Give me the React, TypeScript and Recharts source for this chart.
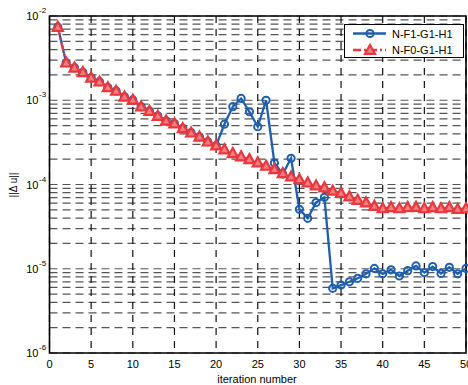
import React from "react";
import { LineChart, Line, XAxis, YAxis, CartesianGrid, ReferenceArea } from "recharts";

const iterations = Array.from({ length: 50 }, (_, i) => i + 1);

const seriesF0: number[] = [
  7.4e-3, 2.79e-3, 2.43e-3, 2.15e-3, 1.85e-3, 1.66e-3, 1.42e-3, 1.29e-3, 1.1e-3, 1.01e-3,
  8.4e-4, 7.45e-4, 6.5e-4, 5.7e-4, 5.3e-4, 4.64e-4, 4.12e-4, 3.69e-4, 3.22e-4, 2.89e-4,
  2.6e-4, 2.35e-4, 2.15e-4, 1.99e-4, 1.82e-4, 1.66e-4, 1.51e-4, 1.36e-4, 1.24e-4, 1.15e-4,
  1.05e-4, 9.7e-5, 9.2e-5, 8.4e-5, 7.9e-5, 7.2e-5, 6.55e-5, 6.1e-5, 5.55e-5, 5.2e-5,
  5.36e-5, 5.2e-5, 5.36e-5, 5.4e-5, 5.2e-5, 5.36e-5, 5.2e-5, 5.36e-5, 5.1e-5, 5.2e-5,
];

const seriesF1: number[] = [
  7.4e-3, 2.79e-3, 2.43e-3, 2.15e-3, 1.85e-3, 1.66e-3, 1.42e-3, 1.29e-3, 1.1e-3, 1.01e-3,
  8.4e-4, 7.45e-4, 6.5e-4, 5.7e-4, 5.3e-4, 4.64e-4, 4.12e-4, 3.69e-4, 3.22e-4, 2.89e-4,
  5.2e-4, 8.4e-4, 1.05e-3, 7.3e-4, 4.85e-4, 1.0e-3, 1.8e-4, 1.33e-4, 2.05e-4, 5.07e-5,
  3.97e-5, 6.1e-5, 7.05e-5, 5.86e-6, 6.4e-6, 7.0e-6, 7.7e-6, 8.7e-6, 1.01e-5, 8.7e-6,
  9.7e-6, 8.2e-6, 9.5e-6, 1.08e-5, 9.0e-6, 1.06e-5, 8.8e-6, 1.04e-5, 8.7e-6, 1.01e-5,
];

const seriesNames = ["N-F1-G1-H1", "N-F0-G1-H1"];
const xTicks = [0, 5, 10, 15, 20, 25, 30, 35, 40, 45, 50];
const decades = [1e-6, 1e-5, 1e-4, 1e-3, 1e-2];
const yTicks: number[] = (() => {
  const t: number[] = [];
  for (let e = -6; e < -2; e++) {
    for (let m = 1; m <= 9; m++) t.push(Number((m * Math.pow(10, e)).toPrecision(3)));
  }
  t.push(1e-2);
  return t;
})();

const data = iterations.map((it, i) => ({ it, f1: seriesF1[i], f0: seriesF0[i] }));

const BLUE = "#1f5fae";
const RED = "#e8383d";
const FONT = "'Liberation Sans', Arial, sans-serif";

const isDecade = (v: number) => decades.some((d) => Math.abs(v - d) / d < 1e-6);

const YTick = (props: any) => {
  const { x, y, payload } = props;
  const v = payload.value as number;
  if (!isDecade(v)) return null;
  const exp = Math.round(Math.log10(v));
  return (
    <g>
      <text x={x - 11} y={y + 4} textAnchor="end" fontSize={11} fontFamily={FONT} fill="#000">
        10
      </text>
      <text x={x - 10.5} y={y - 3} textAnchor="start" fontSize={8} fontFamily={FONT} fill="#000">
        {String(exp)}
      </text>
    </g>
  );
};

const XTick = (props: any) => {
  const { x, payload } = props;
  return (
    <text x={x} y={367.5} textAnchor="middle" fontSize={11} fontFamily={FONT} fill="#000">
      {payload.value}
    </text>
  );
};

const CircleDot = (props: any) => {
  const { cx, cy, index } = props;
  if (cx == null || cy == null) return <g key={index} />;
  return <circle key={index} cx={cx} cy={cy} r={3.6} fill="none" stroke={BLUE} strokeWidth={2} />;
};

const TriDot = (props: any) => {
  const { cx, cy, index } = props;
  if (cx == null || cy == null) return <g key={index} />;
  const p = `${cx},${cy - 5.2} ${cx - 5},${cy + 3.8} ${cx + 5},${cy + 3.8}`;
  return <polygon key={index} points={p} fill="#f07f82" stroke={RED} strokeWidth={2.2} strokeLinejoin="miter" />;
};

export default function App() {
  return (
    <div style={{ position: "absolute", left: 0, top: 0, width: 468, height: 385, background: "#fff" }}>
      <LineChart
        width={468}
        height={385}
        data={data}
        margin={{ top: 16, right: 2, bottom: 0, left: 0 }}
      >
        <CartesianGrid horizontal={true} vertical={false} stroke="#555" strokeDasharray="8 5" strokeWidth={1.2} />
        <CartesianGrid horizontal={false} vertical={true} stroke="#111" strokeDasharray="7 6" strokeWidth={1.2} />
        <XAxis
          dataKey="it"
          type="number"
          domain={[0, 50]}
          ticks={xTicks}
          height={32}
          axisLine={false}
          tickLine={false}
          tickSize={0}
          tickMargin={0}
          tick={XTick}
          interval={0}
          label={{
            content: () => (
              <text x={257} y={383} textAnchor="middle" fontSize={11} fontFamily={FONT} fill="#000">
                iteration number
              </text>
            ),
          }}
        />
        <YAxis
          scale="log"
          domain={[1e-6, 1e-2]}
          allowDataOverflow
          ticks={yTicks}
          interval={0}
          width={49.5}
          axisLine={false}
          tickLine={false}
          tickSize={0}
          tickMargin={0}
          tick={YTick}
          label={{
            content: () => (
              <text
                transform="translate(17,185) rotate(-90)"
                textAnchor="middle"
                fontSize={10}
                fontFamily={FONT}
                fill="#000"
              >
                ||Δ u||
              </text>
            ),
          }}
        />
        <ReferenceArea x1={0} x2={50} y1={1e-6} y2={1e-2} fill="none" stroke="#000" strokeWidth={1.6} />
        <Line
          dataKey="f1"
          name={seriesNames[0]}
          stroke={BLUE}
          strokeWidth={2.3}
          dot={CircleDot}
          isAnimationActive={false}
        />
        <Line
          dataKey="f0"
          name={seriesNames[1]}
          stroke={RED}
          strokeWidth={2.3}
          strokeDasharray="8 3 2 3"
          dot={TriDot}
          isAnimationActive={false}
        />
      </LineChart>
      <div
        style={{
          position: "absolute",
          left: 344,
          top: 24,
          width: 120,
          height: 34,
          boxSizing: "border-box",
          border: "1.5px solid #000",
          background: "#fff",
        }}
      >
        <svg width={117} height={31} style={{ position: "absolute", left: 0, top: 0 }}>
          <line x1={8} x2={41} y1={8.5} y2={8.5} stroke={BLUE} strokeWidth={2.3} />
          <circle cx={25} cy={8.5} r={3.6} fill="none" stroke={BLUE} strokeWidth={2} />
          <text x={47} y={12.5} fontSize={11} fontFamily={FONT} fill="#000">
            {seriesNames[0]}
          </text>
          <line x1={8} x2={41} y1={25} y2={25} stroke={RED} strokeWidth={2.3} strokeDasharray="8 3 2 3" />
          <polygon points="25,20 20,28.8 30,28.8" fill="#f07f82" stroke={RED} strokeWidth={2.2} />
          <text x={47} y={29} fontSize={11} fontFamily={FONT} fill="#000">
            {seriesNames[1]}
          </text>
        </svg>
      </div>
    </div>
  );
}
